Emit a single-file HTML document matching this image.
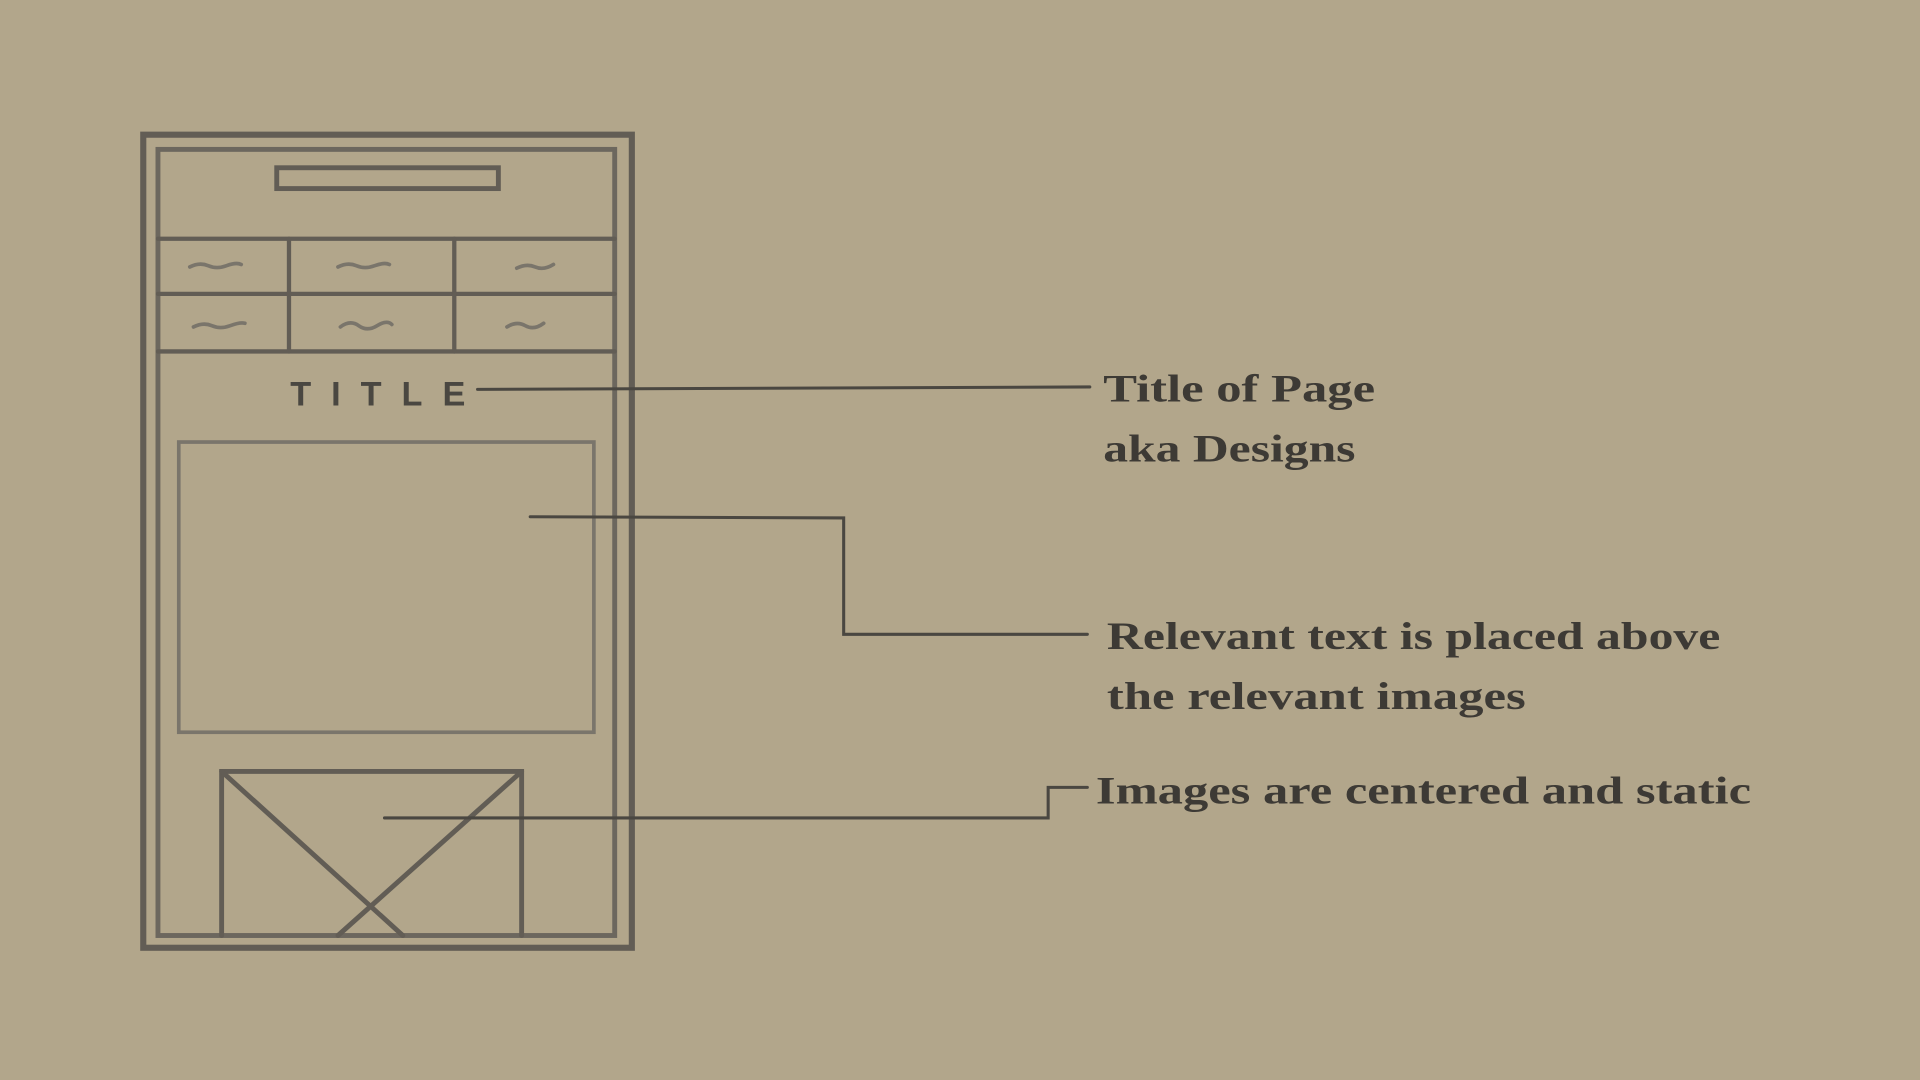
<!DOCTYPE html>
<html><head><meta charset="utf-8"><style>
html,body{margin:0;padding:0;background:#b2a68b;}
svg{display:block}
text.l{font-family:"Liberation Serif",serif;font-weight:bold;font-size:32px;fill:#3d3a35}
</style></head><body>
<svg width="1920" height="1080" viewBox="0 0 1568 882" xmlns="http://www.w3.org/2000/svg">
<rect width="1568" height="882" fill="#b2a68b"/>
<g fill="none" stroke="#625d55" stroke-linecap="round">
<rect x="117" y="110" width="399" height="664" stroke-width="5"/>
<rect x="129" y="122" width="373" height="642" stroke-width="4" stroke="#6c675e"/>
<rect x="226" y="137" width="181" height="17" stroke-width="4"/>
<line x1="129" y1="195" x2="502" y2="195" stroke-width="3.5"/>
<line x1="129" y1="240" x2="502" y2="240" stroke-width="3.5"/>
<line x1="129" y1="287" x2="502" y2="287" stroke-width="3.5"/>
<line x1="236" y1="195" x2="236" y2="287" stroke-width="3.5"/>
<line x1="371" y1="195" x2="371" y2="287" stroke-width="3.5"/>
<g stroke="#7a756b" stroke-width="3">
<path d="M155 218 q8 -4 15 -1 t15 0 t12 -1"/>
<path d="M276 218 q8 -4 15 -1 t15 0 t12 -1"/>
<path d="M422 219 q8 -4 15 -1 t15 -2"/>
<path d="M158 267 q8 -4 15 -1 t15 0 t12 -2"/>
<path d="M278 267 q8 -6 15 -1 t15 0 t12 -1"/>
<path d="M414 267 q8 -5 15 -1 t15 -2"/>
</g>
<rect x="146" y="361" width="339" height="237" stroke-width="3" stroke="#7a756b"/>
<path d="M181 764 V630 H426 V764" stroke-width="4"/>
<line x1="181" y1="630" x2="329" y2="764" stroke-width="4"/>
<line x1="426" y1="630" x2="276" y2="764" stroke-width="4"/>
<g stroke="#4a4741" stroke-width="2.5">
<line x1="390" y1="318" x2="890" y2="316"/>
<path d="M433 422 L689 423 V518 H888"/>
<path d="M314 668 H856 V643 H888"/>
</g>
</g>
<text x="237" y="331" font-family="Liberation Sans,sans-serif" font-weight="bold" font-size="28" textLength="143" fill="#4a4741">TITLE</text>
<text class="l" x="901" y="328" textLength="222" lengthAdjust="spacingAndGlyphs">Title of Page</text>
<text class="l" x="901" y="377" textLength="206" lengthAdjust="spacingAndGlyphs">aka Designs</text>
<text class="l" x="904" y="530" textLength="501" lengthAdjust="spacingAndGlyphs">Relevant text is placed above</text>
<text class="l" x="904" y="579" textLength="342" lengthAdjust="spacingAndGlyphs">the relevant images</text>
<text class="l" x="895" y="656" textLength="535" lengthAdjust="spacingAndGlyphs">Images are centered and static</text>
</svg>
</body></html>
